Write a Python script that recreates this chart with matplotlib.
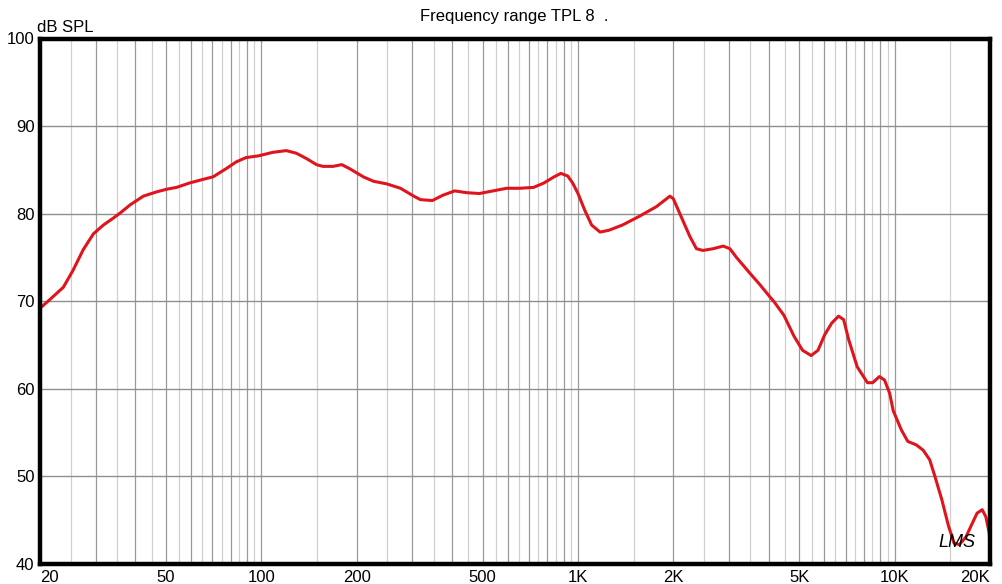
import numpy as np
import matplotlib
matplotlib.use("Agg")
import matplotlib.pyplot as plt

plt.rcParams["font.family"] = ["Liberation Sans", "DejaVu Sans"]

# frequency response (Hz, dB SPL)
freq = [20, 21.5, 23.7, 25.4, 27.4, 29.5, 31.7, 34.1, 35.9, 38.5, 42.4, 46.8, 50.4,
        54.0, 59.3, 65.2, 70.3, 71.1, 77.9, 83.2, 89.4, 97.9, 108.6, 119.9, 129,
        138.7, 149.3, 156.4, 168.5, 179.5, 190.8, 210, 226, 249, 275, 303, 318,
        347, 374, 408, 444, 488, 539, 595, 656, 724, 780, 840, 883, 928, 962,
        1000, 1050, 1104, 1174, 1250, 1381, 1562, 1768, 1951, 2000, 2097, 2255,
        2366, 2481, 2671, 2875, 3017, 3166, 3490, 3752, 4036, 4149, 4468, 4811,
        5118, 5447, 5725, 6017, 6326, 6649, 6900, 7160, 7617, 8206, 8518, 8950,
        9290, 9640, 9896, 10500, 11000, 11700, 12300, 12900, 13400, 14100, 14800,
        15400, 16000, 16800, 17400, 18200, 18900, 19400, 19900, 20000]
spl = [69.2, 70.2, 71.6, 73.5, 75.9, 77.7, 78.7, 79.5, 80.1, 81.0, 82.0, 82.5, 82.8,
       83.0, 83.5, 83.9, 84.2, 84.3, 85.2, 85.9, 86.4, 86.6, 87.0, 87.2, 86.9,
       86.3, 85.6, 85.4, 85.4, 85.6, 85.1, 84.2, 83.7, 83.4, 82.9, 82.0, 81.6,
       81.5, 82.1, 82.6, 82.4, 82.3, 82.6, 82.9, 82.9, 83.0, 83.5, 84.2, 84.6, 84.3, 83.5,
       82.3, 80.4, 78.7, 77.9, 78.1, 78.7, 79.7, 80.8, 82.0, 81.7, 80.0, 77.4,
       76.0, 75.8, 76.0, 76.3, 76.0, 75.0, 73.2, 71.9, 70.5, 70.0, 68.4, 66.0,
       64.4, 63.8, 64.4, 66.2, 67.5, 68.3, 67.9, 65.6, 62.5, 60.7, 60.7, 61.4,
       61.0, 59.5, 57.5, 55.3, 54.0, 53.6, 53.0, 51.9, 50.0, 47.3, 44.3,
       42.4, 42.2, 43.1, 44.3, 45.8, 46.2, 45.4, 43.5, 41.6]

xticks = [20, 50, 100, 200, 500, 1000, 2000, 5000, 10000, 20000]
xlabels = ["20", "50", "100", "200", "500", "1K", "2K", "5K", "10K", "20K"]
yticks = [40, 50, 60, 70, 80, 90, 100]

fig = plt.figure(figsize=(10.03, 5.84), dpi=100)
ax = fig.add_axes([40 / 1003, 20 / 584, 950 / 1003, 525.5 / 584])
ax.set_xscale("log")
ax.set_xlim(20, 20000)
ax.set_ylim(40, 100)

# vertical grid: every half step within each decade
for dec in [10, 100, 1000, 10000]:
    for m in np.arange(1.0, 10.0, 0.5):
        f = dec * m
        if 20 < f < 20000:
            c = "#9a9a9a" if m == int(m) else "#d0d0d0"
            ax.axvline(f, color=c, lw=0.9, zorder=1)
for y in yticks[1:-1]:
    ax.axhline(y, color="#8f8f8f", lw=1.0, zorder=1)

ax.plot(freq, spl, color="#e0141c", lw=2.2, zorder=3, clip_on=False,
        solid_joinstyle="round")

ax.set_xticks(xticks)
ax.set_xticklabels(xlabels)
ax.xaxis.set_minor_locator(matplotlib.ticker.NullLocator())
ax.set_yticks(yticks)
ax.tick_params(length=0, labelsize=12, pad=4)
labs = ax.get_xticklabels()
labs[0].set_ha("left")
labs[-1].set_ha("right")
for s in ax.spines.values():
    s.set_linewidth(3.2)
    s.set_color("black")
    s.set_zorder(4)

fig.text(514 / 1003, 1 - 17 / 584, "Frequency range TPL 8  .", ha="center", va="center", fontsize=12)
fig.text(37 / 1003, 1 - 28 / 584, "dB SPL", ha="left", va="center", fontsize=12)
ax.text(13700, 41.9, "LMS", fontsize=13, style="italic", color="black", zorder=5)

fig.savefig("out.png", dpi=100)
